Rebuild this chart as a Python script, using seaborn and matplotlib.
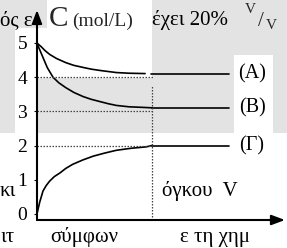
import matplotlib
matplotlib.use("Agg")
import numpy as np
import pandas as pd
import matplotlib.pyplot as plt
import seaborn as sns
from matplotlib.patches import Rectangle

# ---------------- data ----------------
series_names = ["A", "B", "Γ"]
series_labels = ["(A)", "(B)", "(Γ)"]
t_A = [0, 0.1, 0.35, 0.7, 1.1, 1.7, 2.5, 3.2, 4.0, 4.7, 5.5, 6.2, 6.9, 8.0, 9.4]
c_A = [5.0, 4.96, 4.89, 4.77, 4.66, 4.54, 4.42, 4.34, 4.28, 4.23, 4.19, 4.16, 4.13, 4.11, 4.10]
t_B = [0, 0.1, 0.23, 0.52, 0.9, 1.4, 1.9, 2.5, 3.2, 4.0, 4.7, 5.5, 6.2, 6.9, 8.0, 9.4, 10.0]
c_B = [5.0, 4.90, 4.80, 4.57, 4.27, 3.99, 3.83, 3.69, 3.55, 3.43, 3.35, 3.28, 3.22, 3.17, 3.13, 3.11, 3.10]
t_G = [0, 0.1, 0.23, 0.52, 0.8, 1.1, 1.5, 2.0, 2.5, 3.1, 4.0, 4.9, 5.9, 6.9, 8.2, 9.5, 10.0]
c_G = [0.0, 0.15, 0.34, 0.67, 0.83, 0.96, 1.09, 1.20, 1.33, 1.45, 1.58, 1.69, 1.78, 1.86, 1.92, 1.96, 2.00]
plateau_start = [9.9, 10.0, 10.0]
plateau_end = 16.7
plateau_values = [4.10, 3.10, 2.00]
eq_levels = [4, 3, 2]
eq_dotted_end = [10.2, 10.0, 10.0]
t_eq = 10.0
t_eq_top = 3.78
yticks = [0, 1, 2, 3, 4, 5]
ytick_labels = ["0", "1", "2", "3", "4", "5"]

curves = pd.concat([
    pd.DataFrame({"t": t_A, "C": c_A, "series": "A"}),
    pd.DataFrame({"t": t_B, "C": c_B, "series": "B"}),
    pd.DataFrame({"t": t_G, "C": c_G, "series": "Γ"}),
], ignore_index=True)

plateaus = pd.concat([
    pd.DataFrame({"t": [s, plateau_end], "C": [v, v], "series": n})
    for n, s, v in zip(series_names, plateau_start, plateau_values)
], ignore_index=True)

# ---------------- figure ----------------
sns.set_theme(style="white")
plt.rcParams["font.family"] = ["Liberation Serif", "DejaVu Serif"]

W, H = 287, 248
fig = plt.figure(figsize=(W / 100, H / 100), dpi=100)
fig.patch.set_facecolor("white")

def fx(x):
    return x / W

def fy(y):
    return 1 - y / H

# textbook grey shading behind the figure
gray = "#e3e3e3"
for (x0, y0, x1, y1) in [(0, 0, 47, 28), (0, 28, 15, 133), (37, 78, 152, 133),
                         (152, 0, 287, 55), (152, 55, 234, 133), (273, 55, 287, 133)]:
    fig.add_artist(Rectangle((fx(x0), fy(y1)), fx(x1 - x0), (y1 - y0) / H,
                             transform=fig.transFigure, facecolor=gray,
                             edgecolor="none", zorder=-10))

# axes: origin at pixel (37, 220), x arrow tip at 285, y arrow tip at 10
px_per_t = 11.5
px_per_c = 34.25
ax = fig.add_axes([fx(37), fy(220), fx(285 - 37), (220 - 10) / H])
ax.set_facecolor("none")
ymin = -6 / px_per_c
ax.set_xlim(0, (285 - 37) / px_per_t)
ax.set_ylim(ymin, ymin + 210 / px_per_c)
for s in ax.spines.values():
    s.set_visible(False)

sns.lineplot(data=curves, x="t", y="C", units="series", estimator=None,
             color="black", lw=1.2, ax=ax, legend=False)
sns.lineplot(data=plateaus, x="t", y="C", units="series", estimator=None,
             color="black", lw=1.2, ax=ax, legend=False)

ax.hlines(eq_levels, 0, eq_dotted_end, colors="#444444",
          linestyles=(0, (1.2, 1.2)), lw=0.9)
ax.vlines(t_eq, ymin, t_eq_top, colors="#444444",
          linestyles=(0, (1.2, 1.2)), lw=0.9)

# axis arrows
arrow = dict(arrowstyle="-|>,head_length=0.8,head_width=0.3",
             color="black", lw=1.5, shrinkA=0, shrinkB=0, mutation_scale=10)
ax.annotate("", xy=(1, 0), xytext=(0, 0), xycoords="axes fraction",
            textcoords="axes fraction", arrowprops=arrow)
ax.annotate("", xy=(0, 1), xytext=(0, 0), xycoords="axes fraction",
            textcoords="axes fraction", arrowprops=arrow)

ax.set_xticks([])
ax.set_yticks(yticks)
ax.set_yticklabels(ytick_labels)
ax.tick_params(axis="y", left=True, length=2, width=0.8, pad=5,
               labelsize=14, colors="black", direction="out")
ax.set_xlabel("")
ax.set_ylabel("")

# series labels on the right
for lab, v in zip(series_labels, plateau_values):
    ax.text((252 - 37) / px_per_t, v, lab, ha="center", va="center",
            fontsize=14.5, color="black")

# axis title
fig.text(fx(49), fy(26), "C", fontsize=21, ha="left", va="baseline")
fig.text(fx(72), fy(26), "(mol/L)", fontsize=14, ha="left", va="baseline")

# surrounding textbook text fragments
tk = dict(fontsize=15, color="black", va="baseline", ha="left")
fig.text(fx(152), fy(25), "έχει 20%", **tk)
fig.text(fx(245), fy(13), "V", fontsize=11, va="baseline", ha="left")
fig.text(fx(258), fy(26), "/", fontsize=15, va="baseline", ha="left")
fig.text(fx(266), fy(29), "V", fontsize=11, va="baseline", ha="left")
fig.text(fx(0), fy(25), "ός ε", **tk)
fig.text(fx(0), fy(196), "κι", **tk)
fig.text(fx(162), fy(196), "όγκου  V", **tk)
fig.text(fx(0), fy(242), "ιτ", **tk)
fig.text(fx(50), fy(242), "σύμφων", **tk)
fig.text(fx(180), fy(242), "ε τη χημ", **tk)

fig.savefig("out.png", dpi=100)
